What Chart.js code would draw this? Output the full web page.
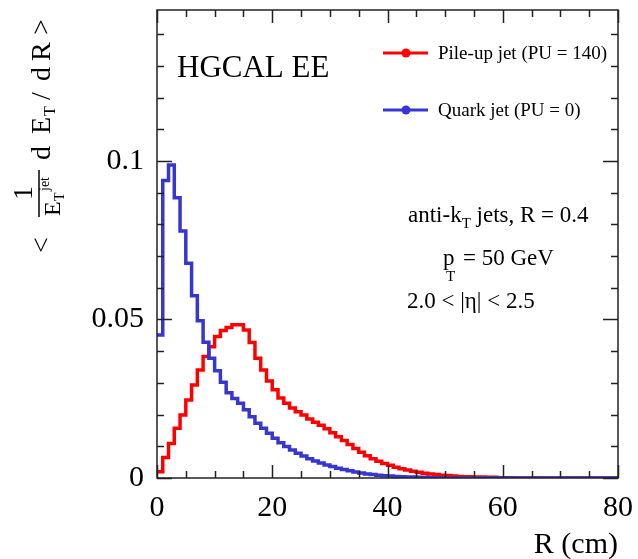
<!DOCTYPE html>
<html lang="en">
<head>
    <meta charset="UTF-8">
    <title>HGCAL EE jet profile</title>
    <script src="https://cdn.jsdelivr.net/npm/chart.js@4.4.0/dist/chart.umd.min.js"></script>
    <style>
        body { margin: 0; background: #fff; }
        canvas { display: block; }
    </style>
</head>
<body>
<canvas id="profile" width="638" height="559"></canvas>

<script>
    // R bins, 1 cm wide, 0 - 80 cm
    var nBins = 80;
    var binEdges = [];
    for (var i = 0; i <= nBins; i++) binEdges.push(i);

    var xTicks = [0, 20, 40, 60, 80];
    var yTicks = [0, 0.05, 0.1];

    // <1/E_T^jet dE_T/dR> per bin, pile-up jets (PU = 140)
    var pileupJet = [
        0.0020, 0.0065, 0.0109, 0.0157, 0.0199, 0.0246, 0.0293, 0.0341, 0.0383, 0.0414,
        0.0446, 0.0465, 0.0475, 0.0483, 0.0483, 0.0467, 0.0427, 0.0378, 0.0341, 0.0306,
        0.0278, 0.0252, 0.0236, 0.0221, 0.0209, 0.0199, 0.0186, 0.0176, 0.0166, 0.0155,
        0.0143, 0.0130, 0.0118, 0.0106, 0.0093, 0.0081, 0.0070, 0.0061, 0.0053, 0.0046,
        0.0040, 0.0034, 0.0029, 0.0025, 0.0021, 0.0018, 0.0015, 0.0013, 0.0011, 0.0009,
        0.0008, 0.0006, 0.0005, 0.0004, 0.0004, 0.0003, 0.0003, 0.0002, 0.0002, 0.0001,
        0.0001, 0.0001, 0, 0, 0, 0, 0, 0, 0, 0,
        0, 0, 0, 0, 0, 0, 0, 0, 0, 0
    ];

    // same for quark jets without pile-up (PU = 0)
    var quarkJet = [
        0.0451, 0.0938, 0.0987, 0.0884, 0.0779, 0.0677, 0.0575, 0.0496, 0.0428, 0.0378,
        0.0338, 0.0302, 0.0269, 0.0251, 0.0236, 0.0215, 0.0193, 0.0173, 0.0157, 0.0141,
        0.0125, 0.0111, 0.0099, 0.0088, 0.0078, 0.0069, 0.0061, 0.0054, 0.0047, 0.0041,
        0.0036, 0.0031, 0.0027, 0.0023, 0.0019, 0.0016, 0.0013, 0.0011, 0.0009, 0.0007,
        0.0006, 0.0005, 0.0004, 0.0003, 0.0003, 0.0002, 0.0002, 0.0001, 0.0001, 0,
        0, 0, 0, 0, 0, 0, 0, 0, 0, 0,
        0, 0, 0, 0, 0, 0, 0, 0, 0, 0,
        0, 0, 0, 0, 0, 0, 0, 0, 0, 0
    ];

    var SERIF = '"Liberation Serif", "DejaVu Serif", serif';
    var RED = '#ff0000';
    var BLUE = '#3636d0';

    // histogram as step line: one point per lower edge, plus the last upper edge
    function histPoints(values) {
        var pts = [];
        for (var i = 0; i < values.length; i++) {
            pts.push({x: binEdges[i], y: values[i]});
        }
        pts.push({x: binEdges[values.length], y: values[values.length - 1]});
        return pts;
    }

    // frame with inward ticks on all four sides
    var framePlugin = {
        id: 'frame',
        afterDatasetsDraw: function (chart) {
            var ctx = chart.ctx, a = chart.chartArea;
            var xs = chart.scales.x, ys = chart.scales.y;
            ctx.save();
            ctx.strokeStyle = '#222';
            ctx.lineWidth = 1.5;
            ctx.strokeRect(a.left, a.top, a.right - a.left, a.bottom - a.top);
            ctx.beginPath();
            for (var v = 0; v <= 80; v += 5) {
                var px = Math.round(xs.getPixelForValue(v)) + 0.5;
                var len = (v % 20 === 0) ? 13 : 7;
                ctx.moveTo(px, a.bottom); ctx.lineTo(px, a.bottom - len);
                ctx.moveTo(px, a.top); ctx.lineTo(px, a.top + len);
            }
            for (var k = 0; k <= 14; k++) {
                var py = Math.round(ys.getPixelForValue(k / 100)) + 0.5;
                var ylen = (k % 5 === 0) ? 15 : 7;
                ctx.moveTo(a.left, py); ctx.lineTo(a.left + ylen, py);
                ctx.moveTo(a.right, py); ctx.lineTo(a.right - ylen, py);
            }
            ctx.stroke();
            ctx.restore();
        }
    };

    // legend, labels and axis titles
    var textPlugin = {
        id: 'texts',
        afterDraw: function (chart) {
            var ctx = chart.ctx;
            ctx.save();
            ctx.fillStyle = '#000';
            ctx.textBaseline = 'alphabetic';
            ctx.textAlign = 'left';

            // legend
            var rows = [53, 110];
            chart.data.datasets.forEach(function (ds, i) {
                var y = rows[i];
                ctx.strokeStyle = ds.borderColor;
                ctx.fillStyle = ds.borderColor;
                ctx.lineWidth = 3;
                ctx.beginPath();
                ctx.moveTo(383, y); ctx.lineTo(428, y);
                ctx.stroke();
                ctx.beginPath();
                ctx.arc(406, y, 4.5, 0, Math.PI * 2);
                ctx.fill();
                ctx.fillStyle = '#000';
                ctx.font = '19px ' + SERIF;
                ctx.fillText(ds.label, 438, y + 6);
            });

            ctx.font = '31px ' + SERIF;
            ctx.fillText('HGCAL EE', 177, 77);

            // anti-kT jets, R = 0.4
            var x = 408;
            ctx.font = '23px ' + SERIF;
            ctx.fillText('anti-k', x, 222);
            x += ctx.measureText('anti-k').width;
            ctx.font = '15px ' + SERIF;
            ctx.fillText('T', x, 228);
            x += ctx.measureText('T').width;
            ctx.font = '23px ' + SERIF;
            ctx.fillText(' jets, R = 0.4', x, 222);

            // pT = 50 GeV
            ctx.fillText('p', 443, 265);
            ctx.font = '15px ' + SERIF;
            ctx.fillText('T', 446, 281);
            ctx.font = '23px ' + SERIF;
            ctx.fillText('= 50 GeV', 463, 265);

            ctx.fillText('2.0 < |\u03b7| < 2.5', 407, 308);

            // x title
            ctx.font = '30px ' + SERIF;
            ctx.textAlign = 'right';
            ctx.fillText('R (cm)', 618, 553);

            // y title, rotated
            ctx.textAlign = 'left';
            ctx.translate(50, 253);
            ctx.rotate(-Math.PI / 2);
            ctx.font = '28px ' + SERIF;
            ctx.fillText('<', 0, 0);
            ctx.textAlign = 'center';
            ctx.fillText('1', 60, -18);
            ctx.textAlign = 'left';
            ctx.lineWidth = 1.5;
            ctx.strokeStyle = '#000';
            ctx.beginPath();
            ctx.moveTo(36, -11); ctx.lineTo(83, -11);
            ctx.stroke();
            ctx.font = '24px ' + SERIF;
            ctx.fillText('E', 37, 10);
            ctx.font = '14px ' + SERIF;
            ctx.fillText('T', 52, 14);
            ctx.fillText('jet', 62, -1);
            ctx.font = '28px ' + SERIF;
            ctx.fillText('d', 93, 0);
            ctx.fillText('E', 119, 0);
            ctx.font = '16px ' + SERIF;
            ctx.fillText('T', 137, 5);
            ctx.font = '28px ' + SERIF;
            ctx.fillText('/', 153, 0);
            ctx.fillText('d', 172, 0);
            ctx.fillText('R', 192, 0);
            ctx.fillText('>', 218, 0);
            ctx.restore();
        }
    };

    var ctx = document.getElementById('profile');

    var profileChart = new Chart(ctx, {
        type: 'line',
        data: {
            datasets: [
                {
                    label: 'Pile-up jet (PU = 140)',
                    data: histPoints(pileupJet),
                    borderColor: RED,
                    borderWidth: 3.5,
                    stepped: true,
                    pointRadius: 0,
                    fill: false,
                    order: 1
                },
                {
                    label: 'Quark jet (PU = 0)',
                    data: histPoints(quarkJet),
                    borderColor: BLUE,
                    borderWidth: 3.5,
                    stepped: true,
                    pointRadius: 0,
                    fill: false,
                    order: 0
                }
            ]
        },
        options: {
            responsive: false,
            animation: false,
            layout: { padding: { top: 10, right: 20, left: 0, bottom: 0 } },
            plugins: {
                legend: { display: false },
                tooltip: { enabled: false }
            },
            scales: {
                x: {
                    type: 'linear',
                    min: 0,
                    max: 80,
                    afterFit: function (s) {
                        s.height = 81;
                        s.paddingLeft = 0;
                        s.paddingRight = 0;
                    },
                    afterBuildTicks: function (s) {
                        s.ticks = xTicks.map(function (v) { return {value: v}; });
                    },
                    grid: { display: false, drawTicks: false },
                    border: { display: false },
                    ticks: {
                        color: '#000',
                        font: { family: SERIF, size: 30 },
                        padding: 12,
                        maxRotation: 0,
                        autoSkip: false,
                        callback: function (v) { return String(v); }
                    }
                },
                y: {
                    type: 'linear',
                    min: 0,
                    max: 0.1476,
                    afterFit: function (s) {
                        s.width = 157;
                        s.paddingTop = 0;
                        s.paddingBottom = 0;
                    },
                    afterBuildTicks: function (s) {
                        s.ticks = yTicks.map(function (v) { return {value: v}; });
                    },
                    grid: { display: false, drawTicks: false },
                    border: { display: false },
                    ticks: {
                        color: '#000',
                        font: { family: SERIF, size: 30 },
                        padding: 13,
                        autoSkip: false,
                        callback: function (v) { return String(v); }
                    }
                }
            }
        },
        plugins: [framePlugin, textPlugin]
    });
</script>

</body>
</html>
